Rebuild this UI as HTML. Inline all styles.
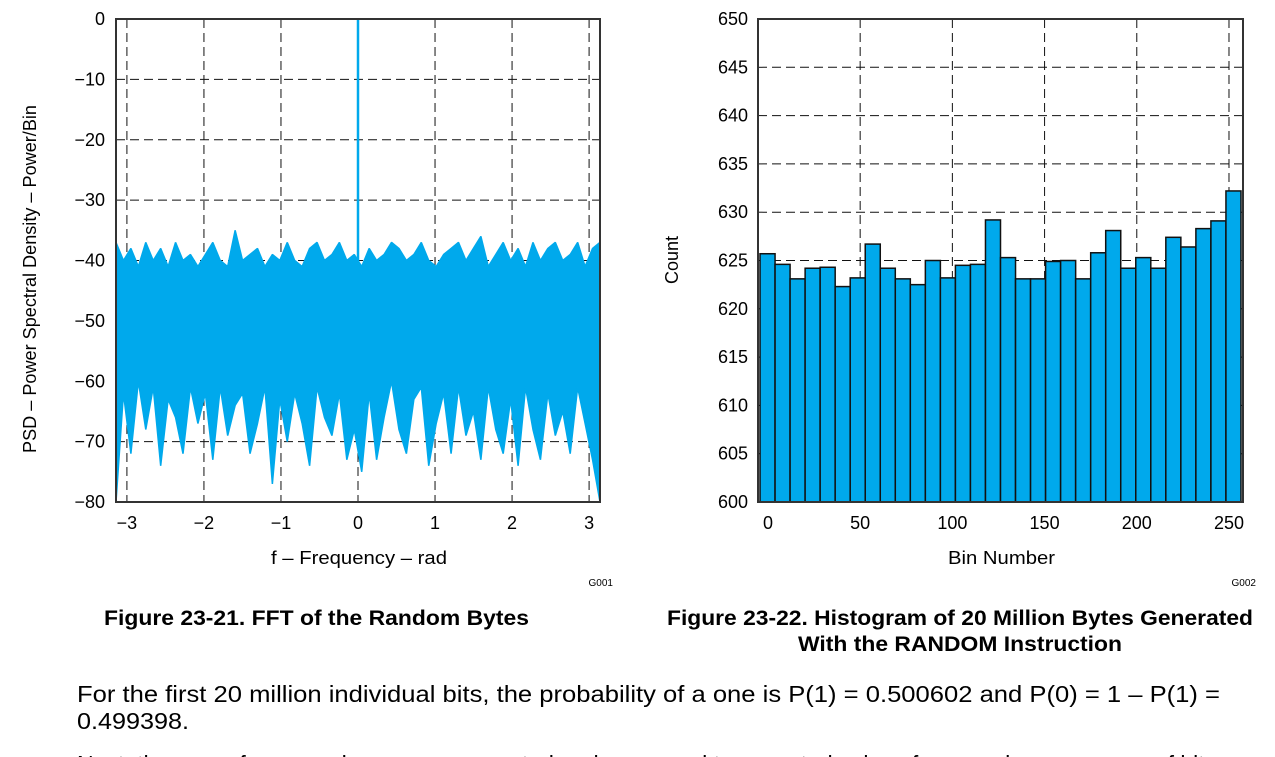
<!DOCTYPE html>
<html><head><meta charset="utf-8"><style>
body{margin:0;background:#fff;width:1275px;height:757px;overflow:hidden;font-family:"Liberation Sans",sans-serif}
svg{position:absolute;left:0;top:0}
</style></head><body>
<svg width="1275" height="757" font-family="Liberation Sans, sans-serif">
<g id="left"></g>
<g id="right"></g>
<text x="104" y="625" font-size="21" font-weight="bold" textLength="425" lengthAdjust="spacingAndGlyphs">Figure 23-21. FFT of the Random Bytes</text>
<text x="667" y="625" font-size="21" font-weight="bold" textLength="586" lengthAdjust="spacingAndGlyphs">Figure 23-22. Histogram of 20 Million Bytes Generated</text>
<text x="798" y="651" font-size="21" font-weight="bold" textLength="324" lengthAdjust="spacingAndGlyphs">With the RANDOM Instruction</text>
<text x="77" y="702" font-size="23" textLength="1143" lengthAdjust="spacingAndGlyphs">For the first 20 million individual bits, the probability of a one is P(1) = 0.500602 and P(0) = 1 – P(1) =</text>
<text x="77" y="729" font-size="23" textLength="112" lengthAdjust="spacingAndGlyphs">0.499398.</text>
<text x="77" y="772" font-size="23">Next, the runs of ones and zeros were counted and compared to expected values for a random sequence of bits.</text>
</svg>
<script>
const NS="http://www.w3.org/2000/svg";
function mk(p,t,a){const e=document.createElementNS(NS,t);for(const k in a)e.setAttribute(k,a[k]);p.appendChild(e);return e;}
// ---- FFT data ----
const fftXTicks=[-3,-2,-1,0,1,2,3];
const fftYTicks=[0,-10,-20,-30,-40,-50,-60,-70,-80];
const fftUpper=[-37,-40,-38,-41,-37,-40,-38,-41,-37,-40,-39,-41,-39,-37,-40,-41,-35,-40,-39,-38,-41,-39,-40,-37,-40,-41,-38,-37,-40,-39,-37,-40,-39,-41,-38,-40,-39,-37,-38,-40,-39,-37,-40,-41,-39,-38,-37,-40,-38,-36,-41,-39,-37,-40,-38,-41,-37,-40,-38,-37,-40,-39,-37,-41,-38,-37];
const fftLower=[-80,-62,-72,-60,-68,-61,-74,-63,-66,-72,-61,-67,-62,-73,-61,-69,-64,-62,-72,-67,-61,-77,-63,-70,-62,-67,-74,-61,-66,-69,-62,-73,-68,-75,-62,-73,-66,-60,-68,-72,-63,-61,-74,-67,-62,-72,-61,-69,-65,-73,-61,-68,-72,-63,-74,-61,-68,-73,-62,-69,-65,-72,-61,-67,-73,-80];
const fftPeakX=[0];
const fftPeakY=[0];
// ---- Histogram data ----
const histX=[0,50,100,150,200,250];
const histYTicks=[600,605,610,615,620,625,630,635,640,645,650];
const binCounts=[625.7,624.6,623.1,624.2,624.3,622.3,623.2,626.7,624.2,623.1,622.5,625.0,623.2,624.5,624.6,629.2,625.3,623.1,623.1,624.9,625.0,623.1,625.8,628.1,624.2,625.3,624.2,627.4,626.4,628.3,629.1,632.2];

function dash(g,x1,y1,x2,y2){mk(g,'line',{x1,y1,x2,y2,stroke:'#111','stroke-width':1,'stroke-dasharray':'9,5'});}
const FS=18;
// Left chart
(function(){
const g=document.getElementById('left');
const L=116,R=600,T=19,B=502;
const sx=v=>L+(v+Math.PI)/(2*Math.PI)*(R-L);
const sy=v=>T+(0-v)/80*(B-T);
fftXTicks.forEach(v=>{dash(g,sx(v),T,sx(v),B);
 const t=mk(g,'text',{x:sx(v),y:B+27,'text-anchor':'middle','font-size':FS});t.textContent=(v<0?'−':'')+Math.abs(v);
 });
fftYTicks.forEach(v=>{if(v!==0&&v!==-80)dash(g,L,sy(v),R,sy(v));
 const t=mk(g,'text',{x:L-11,y:sy(v)+6,'text-anchor':'end','font-size':FS});t.textContent=(v<0?'−':'')+Math.abs(v);
 });
const n=fftUpper.length;let pts=[];
const xs=i=>-Math.PI+i/(n-1)*2*Math.PI;
for(let i=0;i<n;i++)pts.push(sx(xs(i))+','+sy(fftUpper[i]));
for(let i=n-1;i>=0;i--)pts.push(sx(xs(i))+','+sy(fftLower[i]));
const poly=mk(g,'polygon',{points:pts.join(' '),fill:'#00a9ec',stroke:'#00a9ec','stroke-width':1.5,'stroke-linejoin':'bevel'});

fftPeakX.forEach((v,i)=>{const l=mk(g,'line',{x1:sx(v),y1:sy(-45),x2:sx(v),y2:sy(fftPeakY[i]),stroke:'#00a9ec','stroke-width':2.5});
 });
const f=mk(g,'rect',{x:L,y:T,width:R-L,height:B-T,fill:'none',stroke:'#333','stroke-width':2});

let t=mk(g,'text',{x:271,y:564,'font-size':FS,textLength:176,lengthAdjust:'spacingAndGlyphs'});t.textContent='f – Frequency – rad';

t=mk(g,'text',{x:36,y:279,'text-anchor':'middle','font-size':FS,transform:'rotate(-90 36 279)',textLength:348,lengthAdjust:'spacingAndGlyphs'});t.textContent='PSD – Power Spectral Density – Power/Bin';

t=mk(g,'text',{x:613,y:586,'text-anchor':'end','font-size':10});t.textContent='G001';

})();
// Right chart
(function(){
const g=document.getElementById('right');
const L=758,R=1243,T=19,B=502;
const x0=-5.4,x1=257.6;
const sx=v=>L+(v-x0)/(x1-x0)*(R-L);
const sy=v=>B-(v-600)/50*(B-T);
histX.forEach(v=>{if(v!==0)dash(g,sx(v),T,sx(v),B);
 const t=mk(g,'text',{x:sx(v),y:B+27,'text-anchor':'middle','font-size':FS});t.textContent=v;
 });
histYTicks.forEach(v=>{if(v!==600&&v!==650)dash(g,L,sy(v),R,sy(v));
 const t=mk(g,'text',{x:L-10,y:sy(v)+6,'text-anchor':'end','font-size':FS});t.textContent=v;
 });
const n=binCounts.length,start=-4.3,end=256.5,w=(end-start)/n;
binCounts.forEach((c,i)=>{const r=mk(g,'rect',{x:sx(start+i*w),y:sy(c),width:sx(start+(i+1)*w)-sx(start+i*w),height:sy(600)-sy(c),fill:'#00a9ec',stroke:'#111','stroke-width':1.5});
 });
const f=mk(g,'rect',{x:L,y:T,width:R-L,height:B-T,fill:'none',stroke:'#333','stroke-width':2});

let t=mk(g,'text',{x:948,y:564,'font-size':FS,textLength:107,lengthAdjust:'spacingAndGlyphs'});t.textContent='Bin Number';

t=mk(g,'text',{x:678,y:260,'text-anchor':'middle','font-size':FS,transform:'rotate(-90 678 260)'});t.textContent='Count';

t=mk(g,'text',{x:1256,y:586,'text-anchor':'end','font-size':10});t.textContent='G002';

})();
</script>
</body></html>
